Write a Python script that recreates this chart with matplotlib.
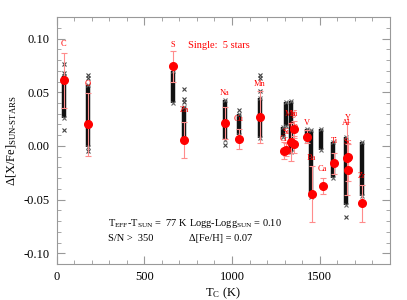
import matplotlib
matplotlib.use('Agg')
import matplotlib.pyplot as plt
from matplotlib.ticker import MultipleLocator

plt.rcParams['font.family'] = ['Liberation Serif', 'DejaVu Serif']
plt.rcParams['mathtext.fontset'] = 'custom'
plt.rcParams['mathtext.rm'] = 'Liberation Serif'
plt.rcParams['mathtext.it'] = 'Liberation Serif:italic'

# mean abundance differences (red dots)
elements = ['C', 'O', 'S', 'Zn', 'Na', 'Cu', 'Mn', 'Cr', 'Si', 'Mg', 'Co', 'Ni',
            'V', 'Ba', 'Ca', 'Ti', 'Al', 'Sc', 'Y', 'Zr']
tc = [40, 180, 664, 726, 958, 1037, 1158, 1296, 1310, 1336, 1352, 1353,
      1429, 1455, 1517, 1582, 1653, 1659, 1659, 1741]
mean = [0.061, 0.020, 0.074, 0.0056, 0.021, 0.0065, 0.0268, -0.0044, -0.0037, 0.004,
        0.0156, 0.0016, 0.0087, -0.0449, -0.0371, -0.0162, -0.0115, -0.0224, -0.010, -0.0536]
err = [0.026, 0.029, 0.014, 0.017, 0.015, 0.0095, 0.024, 0.0076, 0.006, 0.0177,
       0.008, 0.008, 0.006, 0.026, 0.0075, 0.010, 0.034, 0.010, 0.012, 0.017]
label_y = [0.095, 0.058, 0.094, 0.033, 0.049, 0.025, 0.058, 0.0063, 0.0125, 0.030,
           0.0187, 0.030, 0.021, -0.0115, -0.0218, 0.005, 0.021, 0.004, 0.026, -0.028]

# spread of single-star values (black columns)
col_tc = [40, 180, 664, 726, 958, 1037, 1158, 1293, 1305, 1334, 1429, 1452, 1508, 1578, 1650, 1740]
col_lo = [0.026, -0.001, 0.040, 0.005, 0.0056, 0.010, 0.0072, 0.0087, 0.0187, -0.0053,
          0.0056, -0.0474, -0.0037, -0.030, -0.055, -0.0467]
col_hi = [0.065, 0.057, 0.0695, 0.036, 0.043, 0.030, 0.0446, 0.0175, 0.0405, 0.0414,
          0.0156, 0.015, 0.0156, 0.004, 0.0087, 0.004]
out_tc = [40, 40, 40, 180, 180, 180, 726, 726, 726, 958, 1037, 1158, 1158, 1158, 1650]
out_val = [0.076, 0.068, 0.015, 0.066, 0.063, -0.0044, 0.053, 0.0437, 0.0405, 0.001,
           0.033, 0.066, 0.063, 0.051, -0.066]

fig = plt.figure(figsize=(4.07, 3.0), dpi=100)
ax = fig.add_axes([0.139, 0.12, 0.819, 0.823])

ax.vlines(col_tc, col_lo, col_hi, color='#111111', lw=3.2, zorder=2)
ax.plot(col_tc + col_tc, col_lo + col_hi, 'x', color='#666666', ms=3, mew=0.8, zorder=2)
ax.plot(out_tc, out_val, 'x', color='#444444', ms=3, mew=0.8, zorder=2)

ax.errorbar(tc, mean, yerr=err, fmt='none', ecolor='#ff8c8c', elinewidth=0.8,
            capsize=2, capthick=0.8, zorder=3)
ax.plot(tc, mean, 'o', color='red', ms=5.5, mec='red', zorder=4)

for el, x, y in zip(elements, tc, label_y):
    ax.text(x, y, el, color='red', fontsize=6, ha='center', va='center', zorder=5)

ax.text(748, 0.0935, 'Single:  5 stars', color='red', fontsize=7.5, va='center')

ax.text(295, -0.0725, r'T$_{\rm EFF}$-T$_{\rm SUN}$ =  77 K', fontsize=7.5, va='center')
ax.text(295, -0.0865, 'S/N >  350', fontsize=7.5, va='center')
ax.text(752, -0.0725, r'Logg-Logg$_{\rm SUN}$ = 0.10', fontsize=7.5, va='center')
ax.text(752, -0.0865, 'Δ[Fe/H] = 0.07', fontsize=7.5, va='center')

ax.set_xlim(0, 1900)
ax.set_ylim(-0.11, 0.12)
ax.xaxis.set_major_locator(MultipleLocator(500))
ax.xaxis.set_minor_locator(MultipleLocator(100))
ax.yaxis.set_major_locator(MultipleLocator(0.05))
ax.yaxis.set_minor_locator(MultipleLocator(0.01))
ax.yaxis.set_major_formatter(plt.FuncFormatter(lambda v, p: '%.2f' % v))
ax.tick_params(which='both', direction='in', top=True, right=True, color='#999999',
               labelsize=9)
ax.tick_params(which='major', length=6, pad=5)
ax.tick_params(which='minor', length=3)
for s in ax.spines.values():
    s.set_color('#999999')

ax.set_xlabel(r'T$_{\rm C}$ (K)', fontsize=9, labelpad=2)
ax.set_ylabel(r'Δ[X/Fe]$_{\rm SUN\text{-}STARS}$', fontsize=9, labelpad=3)

fig.savefig('out.png', dpi=100)
